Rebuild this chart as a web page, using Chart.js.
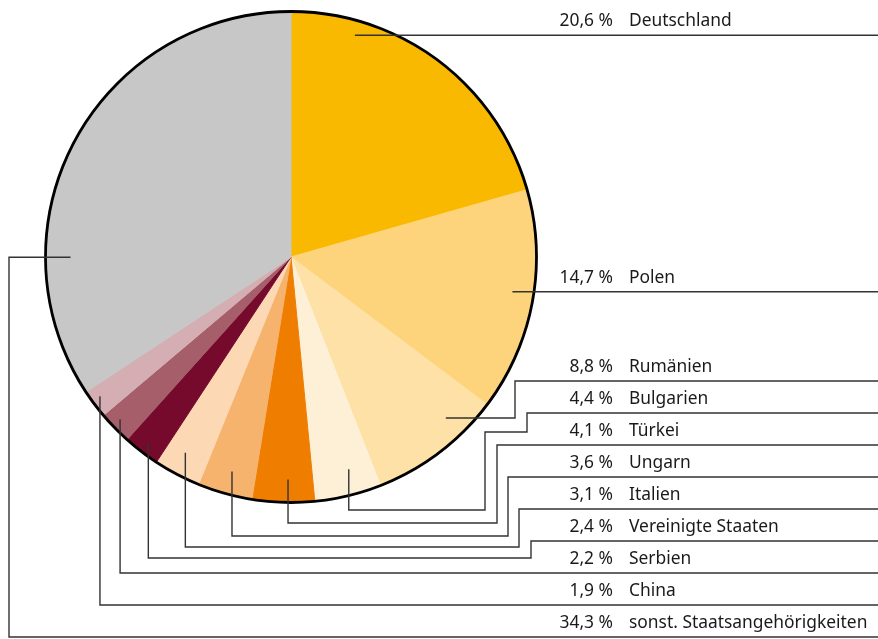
<!DOCTYPE html>
<html lang="de">
<head>
<meta charset="utf-8">
<title>Staatsangehörigkeiten</title>
<script src="https://cdn.jsdelivr.net/npm/chart.js@4.4.1/dist/chart.umd.min.js"></script>
<style>
html, body { margin: 0; padding: 0; background: #fff; }
canvas { display: block; }
</style>
</head>
<body>
<canvas id="chartPie" width="878" height="639"></canvas>
<script>
// ======== DATI ========
const countries = ['Deutschland', 'Polen', 'Rumänien', 'Bulgarien', 'Türkei', 'Ungarn',
    'Italien', 'Vereinigte Staaten', 'Serbien', 'China', 'sonst. Staatsangehörigkeiten'];
const shares = [20.6, 14.7, 8.8, 4.4, 4.1, 3.6, 3.1, 2.4, 2.2, 1.9, 34.3];
const sliceColors = ['#F9B900', '#FDD47C', '#FDE1A6', '#FEF0D6', '#EF7D00', '#F6B36E',
    '#FCD8B4', '#760A2C', '#A55E6A', '#D4AEB2', '#C6C7C6'];

// ======== LAYOUT ETICHETTE ========
// y della riga orizzontale sotto ogni etichetta
const rowY = [35, 292, 381, 413, 445, 477, 509, 541, 573, 605, 637];
// f = posizione nell'angolo della fetta, r = frazione del raggio,
// go = prima direzione, path = coordinate alternate dei gomiti
const leaders = [
    { f: 0.217, r: 0.94,  go: 'h', path: [] },
    { f: 0.47,  r: 0.913, go: 'h', path: [] },
    { f: 0.29,  r: 0.91,  go: 'h', path: [515, 381] },
    { f: 0.39,  r: 0.896, go: 'v', path: [510, 485, 432, 527, 413] },
    { f: 0.43,  r: 0.906, go: 'v', path: [523, 497, 445] },
    { f: 0.48,  r: 0.906, go: 'v', path: [536, 508, 477] },
    { f: 0.56,  r: 0.906, go: 'v', path: [547, 519, 509] },
    { f: 0.51,  r: 0.951, go: 'v', path: [558, 531, 541] },
    { f: 0.58,  r: 0.96,  go: 'v', path: [573] },
    { f: 0.6,   r: 0.963, go: 'v', path: [605] },
    { f: 0.27,  r: 0.898, go: 'h', path: [9, 637] }
];

const FONT = '17.4px "Noto Sans", "Open Sans", sans-serif';

function fmt(v) {
    return v.toFixed(1).replace('.', ',') + ' %';
}

// contorno + linee guida + testi
const leaderPlugin = {
    id: 'leaderPlugin',
    afterDatasetsDraw(chart) {
        const ctx = chart.ctx;
        const meta = chart.getDatasetMeta(0);
        const W = chart.width;
        const first = meta.data[0];
        const cx = first.x, cy = first.y, R = first.outerRadius;

        ctx.save();
        // bordo nero del cerchio
        ctx.beginPath();
        ctx.arc(cx, cy, R, 0, Math.PI * 2);
        ctx.lineWidth = 2.8;
        ctx.strokeStyle = '#000';
        ctx.stroke();

        // linee guida
        ctx.lineWidth = 1.4;
        ctx.strokeStyle = '#333';
        ctx.lineJoin = 'miter';
        meta.data.forEach((arc, i) => {
            const L = leaders[i];
            const a = arc.startAngle + L.f * (arc.endAngle - arc.startAngle);
            let x = cx + L.r * R * Math.cos(a);
            let y = cy + L.r * R * Math.sin(a);
            let dir = L.go;
            ctx.beginPath();
            ctx.moveTo(x, y);
            for (const v of L.path) {
                if (dir === 'v') y = v; else x = v;
                ctx.lineTo(x, y);
                dir = dir === 'v' ? 'h' : 'v';
            }
            ctx.lineTo(W, y);
            ctx.stroke();
        });

        // testi
        ctx.font = FONT;
        ctx.fillStyle = '#1a1a1a';
        ctx.textBaseline = 'alphabetic';
        countries.forEach((name, i) => {
            const by = rowY[i] - 9;
            ctx.textAlign = 'right';
            ctx.fillText(fmt(shares[i]), 613, by);
            ctx.textAlign = 'left';
            ctx.fillText(name, 629, by);
        });
        ctx.restore();
    }
};

const ctx = document.getElementById('chartPie').getContext('2d');
const chartPie = new Chart(ctx, {
    type: 'pie',
    data: {
        labels: countries,
        datasets: [{
            data: shares,
            backgroundColor: sliceColors,
            borderColor: sliceColors,
            borderWidth: 1
        }]
    },
    options: {
        responsive: false,
        animation: false,
        layout: { padding: { left: 45, top: 11, right: 341, bottom: 136 } },
        plugins: {
            legend: { display: false },
            tooltip: { enabled: false }
        }
    },
    plugins: [leaderPlugin]
});
</script>
</body>
</html>
